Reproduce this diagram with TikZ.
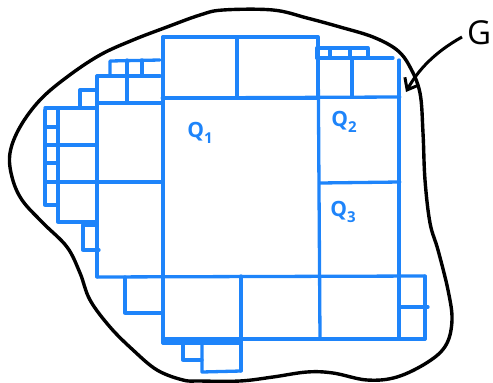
\documentclass[tikz,border=0pt]{standalone}
\usepackage{fontspec}
\setmainfont{Open Sans}
\usetikzlibrary{arrows.meta}
\definecolor{qblue}{RGB}{30,132,250}
\newcommand{\qsubfont}{\fontsize{15}{15}\selectfont\bfseries}
\tikzset{
  grid/.style={draw=qblue, line width=3.3pt, line join=round, line cap=round},
  blob/.style={draw=black, line width=3.4pt},
  qlabel/.style={text=qblue, font=\fontsize{21}{21}\selectfont\bfseries, inner sep=0pt},
}
\begin{document}
\begin{tikzpicture}[x=1pt,y=-1pt]
\useasboundingbox (0,0) rectangle (493,383);
% black outline G
\draw[blob] plot[smooth cycle, tension=0.6] coordinates {
 (223,10) (273,10) (307,18) (340,27) (373,37) (397,50) (410,67) (420,93)
 (423,133) (425,180) (430,223) (438,250) (448,290) (452,320) (446,345)
 (428,362) (397,377) (367,380) (333,373) (307,372) (273,377) (240,381)
 (200,381) (183,380) (157,370) (133,350) (110,327) (90,300) (80,273)
 (67,247) (43,223) (22,200) (12,177) (10,153) (20,127) (40,100) (67,77)
 (100,55) (133,40) (167,27) (200,15)};
% label G and arrow
\node[font=\fontsize{33}{33}\selectfont, anchor=west, inner sep=0pt] (G) at (467,33) {G};
\coordinate (tip) at (406,92);
\draw[line width=3pt, -{Straight Barb[length=10pt,width=16pt,line width=3pt]}]
  (G.west) ++(-5,4) .. controls (435,52) and (418,70) .. (tip);
% ---- blue quadtree ----
% top blocks
\draw[grid] (163,37) rectangle (237,98);
\draw[grid] (237,37) rectangle (318,98);
% top right small
\draw[grid] (317,48) rectangle (368,58);
\draw[grid] (330,48) -- (330,58);
\draw[grid] (350,48) -- (350,58);
\draw[grid] (317,58) -- (393,58);
\draw[grid] (352,58) -- (352,97);
\draw[grid] (399,60) -- (399,339);
\draw[grid] (318,37) -- (320,339);
% long horizontals
\draw[grid] (162,98) -- (400,97);
\draw[grid] (97,103) -- (162,103);
\draw[grid] (320,183) -- (400,182);
\draw[grid] (97,277) -- (425,276);
% bottom row
\draw[grid] (163,339) -- (425,339);
\draw[grid] (163,37) -- (163,343);
\draw[grid] (163,343) -- (240,343);
\draw[grid] (241,276) -- (241,371);
\draw[grid] (425,276) -- (425,339);
\draw[grid] (400,307) -- (428,307);
% below bottom
\draw[grid] (202,343) -- (202,372) -- (241,371);
\draw[grid] (183,343) -- (183,360) -- (202,360);
% box below left
\draw[grid] (125,277) -- (125,313) -- (162,313);
% left blocks
\draw[grid] (97,76) -- (97,277);
\draw[grid] (45,182) -- (162,182);
\draw[grid] (97,76) -- (160,76);
\draw[grid] (127,60) -- (127,103);
\draw[grid] (110,76) -- (110,61) -- (160,60);
\draw[grid] (142,60) -- (142,76);
\draw[grid] (80,107) -- (80,90) -- (97,90);
% left column
\draw[grid] (45,108) -- (97,108);
\draw[grid] (58,108) -- (58,222) -- (97,222);
\draw[grid] (58,145) -- (97,145);
\draw[grid] (45,110) -- (45,205) -- (58,205);
\draw[grid] (45,127) -- (58,127);
\draw[grid] (45,145) -- (58,145);
\draw[grid] (45,163) -- (58,163);
\draw[grid] (83,225) -- (83,250) -- (99,250);
\draw[grid] (83,225) -- (97,225);
% labels
\node[qlabel] (q1) at (200,133) {Q\raisebox{-0.3em}{\qsubfont 1}};
\node[qlabel] (q2) at (344,122) {Q\raisebox{-0.3em}{\qsubfont 2}};
\node[qlabel] (q3) at (343,212) {Q\raisebox{-0.3em}{\qsubfont 3}};
\end{tikzpicture}
\end{document}
